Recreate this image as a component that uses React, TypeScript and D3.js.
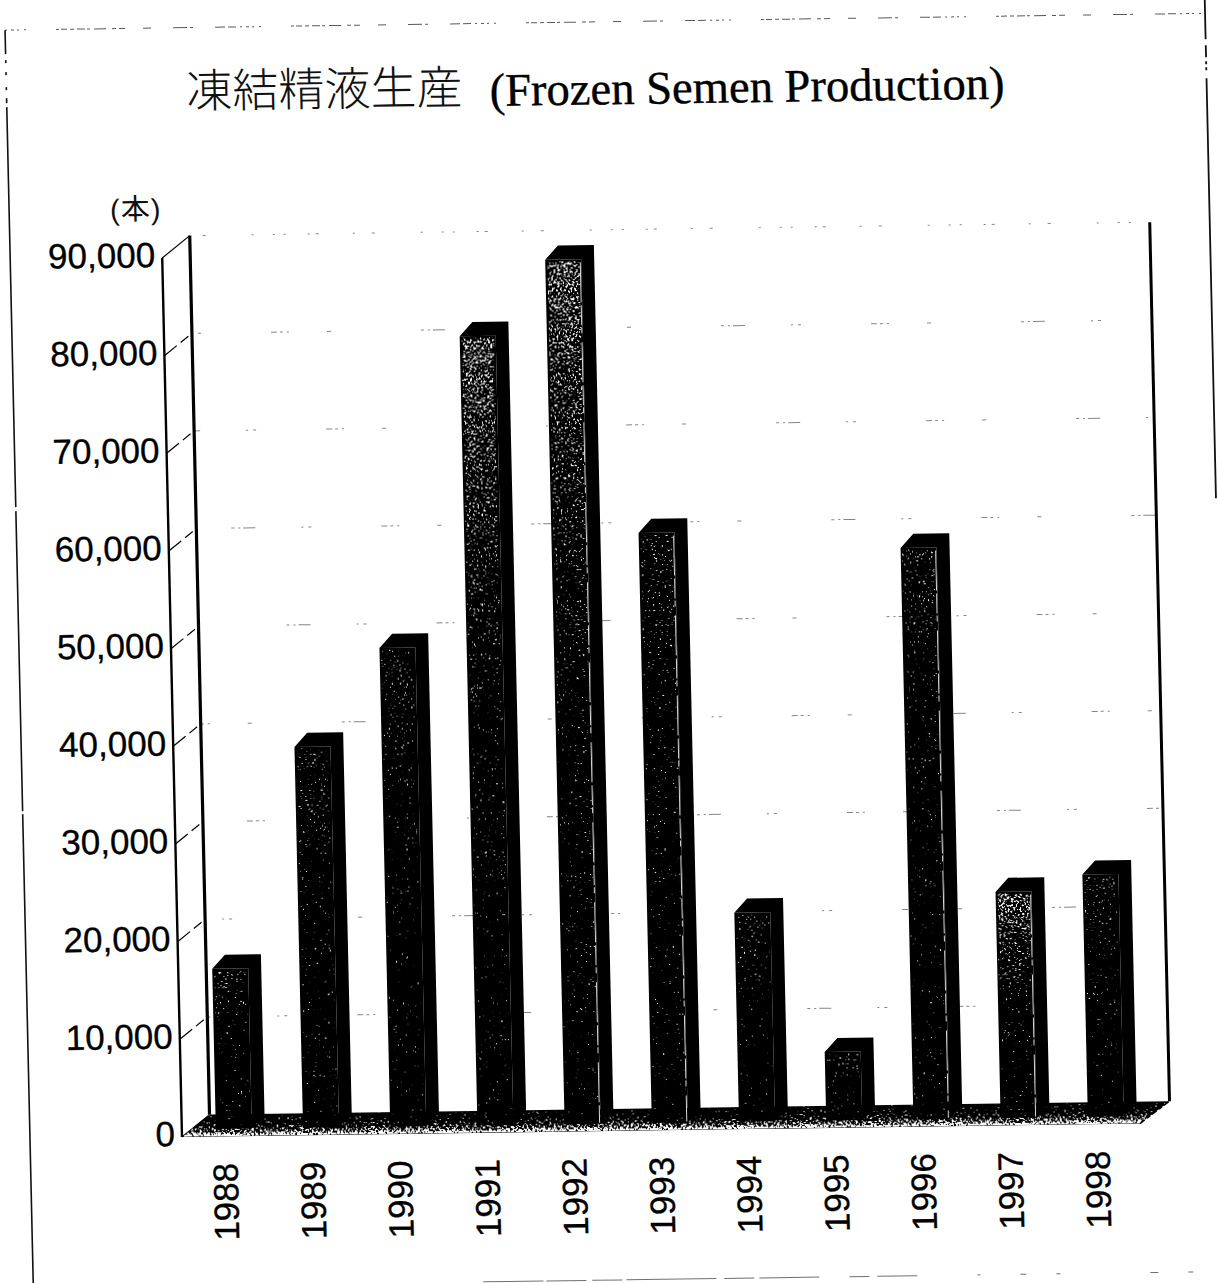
import React from "react";
import * as d3 from "d3";

const years = ["1988","1989","1990","1991","1992","1993","1994","1995","1996","1997","1998"];
const production = [16400,39000,49000,80800,88500,60400,21400,7000,58500,23150,24800];
const yTicks = [0,10000,20000,30000,40000,50000,60000,70000,80000,90000];
const strongGrain = ["1991","1992","1997"];
const litEdge = ["1992","1993","1996","1997"];

const titleJa = "凍結精液生産";
const titleEn = "(Frozen Semen Production)";
const unitLabel = "(本)";

const W = 1218, H = 1283;
// The printed page sits slightly sheared; everything is drawn square and then sheared as one.
const shearX = 0.0225, shearY = 0.014, pivotX = 182, pivotY = 1137;
const sheet = `matrix(1 ${-shearY} ${shearX} 1 ${-shearX * pivotY} ${shearY * pivotX})`;

const wallDx = 28, wallDy = -22;      // floor depth
const barDx = 13, barDy = -14;        // bar depth
const barInset = 7.5;                 // front of the bars, above the floor's front edge
const floorLeft = 182, floorRight = 1140;

const y = d3.scaleLinear().domain([0, 90000]).range([1137, 258]);
const x = d3.scaleBand().domain(years).range([216, 216 + 87.2 * 10 + 36]).paddingInner(1 - 36 / 87.2).paddingOuter(0);
const fmt = d3.format(",");
const poly = (pts: [number, number][]) => d3.line()(pts) + "Z";

const sans = "'Liberation Sans', 'Noto Sans CJK JP', Arial, sans-serif";

export default function App() {
  const wallTop = y(90000) + wallDy;
  const wallBottom = y(0) + wallDy;
  const wallL = floorLeft + wallDx;
  const wallR = floorRight + wallDx + 2;
  const floor = poly([[floorLeft, y(0)], [floorRight, y(0)], [wallR, wallBottom], [wallL, wallBottom]]);
  return (
    <svg width={W} height={H} viewBox={`0 0 ${W} ${H}`} style={{ position: "absolute", left: 0, top: 0, background: "#fff" }}>
      <defs>
        {/* speckle: the fill's alpha sets how many noise grains pass the threshold */}
        <filter id="speck" x="0" y="0" width="100%" height="100%" colorInterpolationFilters="sRGB">
          <feTurbulence type="fractalNoise" baseFrequency="0.48" numOctaves="2" seed="7" result="n" />
          <feColorMatrix in="n" type="matrix" values="0 0 0 0 0  0 0 0 0 0  0 0 0 0 0  1 0 0 0 0" result="na" />
          <feComposite in="na" in2="SourceAlpha" operator="arithmetic" k1="0" k2="1" k3="0.5" k4="0" result="sum" />
          <feComponentTransfer in="sum" result="hard">
            <feFuncA type="linear" slope="14" intercept="-10.6" />
          </feComponentTransfer>
          <feFlood floodColor="#fff" />
          <feComposite in2="hard" operator="in" />
        </filter>
        <linearGradient id="grainStrong" x1="0" y1="0" x2="0" y2="1">
          <stop offset="0" stopColor="#000" stopOpacity="0.46" />
          <stop offset="0.2" stopColor="#000" stopOpacity="0.3" />
          <stop offset="0.5" stopColor="#000" stopOpacity="0.1" />
          <stop offset="1" stopColor="#000" stopOpacity="0.05" />
        </linearGradient>
        <linearGradient id="grainWeak" x1="0" y1="0" x2="0" y2="1">
          <stop offset="0" stopColor="#000" stopOpacity="0.2" />
          <stop offset="0.3" stopColor="#000" stopOpacity="0.08" />
          <stop offset="1" stopColor="#000" stopOpacity="0.03" />
        </linearGradient>
        <linearGradient id="grainFloor" x1="0" y1="0" x2="0" y2="1">
          <stop offset="0" stopColor="#000" stopOpacity="0.06" />
          <stop offset="0.5" stopColor="#000" stopOpacity="0.24" />
          <stop offset="0.85" stopColor="#000" stopOpacity="0.55" />
          <stop offset="1" stopColor="#000" stopOpacity="0.95" />
        </linearGradient>
        <clipPath id="floorClip"><path d={floor} /></clipPath>
      </defs>

      <g transform={sheet}>
        {/* page frame, mostly lost along its edges */}
        <g fill="none" stroke="#111">
          <line x1={30} y1={28} x2={30} y2={1290} strokeWidth={1.6} strokeDasharray="24 6 3 9 3 12 3 8 5 4 400 4 300 3 500" />
          <line x1={30} y1={28} x2={1235} y2={28} strokeWidth={1} strokeDasharray="2 4 3 3 2 5 2 30 3 2 6 3 4 3 8 2 3 4 12 6 4 3 6 18 8 22 14 3 3 22 10 3 8 4" opacity={0.7} />
          <line x1={1230} y1={10} x2={1230} y2={520} strokeWidth={1.8} strokeDasharray="44 6 12 4 3 3 3 8 420" />
          <line x1={480} y1={1286} x2={1220} y2={1286} strokeWidth={1} strokeDasharray="60 3 40 6 30 4 90 8 30 5 60 30 20 8 40" opacity={0.6} />
        </g>

        {/* titles */}
        <text x={210} y={108} fontFamily="'Noto Sans CJK JP', sans-serif" fontWeight={300} fontSize={46} fill="#111">{titleJa}</text>
        <text x={513} y={110.5} fontFamily="'Liberation Serif', serif" fontSize={46.6} fill="#000" stroke="#000" strokeWidth={0.4}>{titleEn}</text>
        <text x={131} y={219} fontFamily={sans} fontSize={29} letterSpacing={1} fill="#111">{unitLabel}</text>

        {/* back wall gridlines, faint in print */}
        <g stroke="#666" strokeWidth={1} fill="none">
          {yTicks.filter((t) => t > 0).map((t, i) => (
            <line key={t} x1={wallL} x2={wallR} y1={y(t) + wallDy} y2={y(t) + wallDy}
              strokeDasharray={t === 90000 ? "2 9 2 22 2 6 3 34 2 17 3 46 2 19" : "3 4 2 3 12 46 2 5 3 70 6 3 3 4 2 38 4 90"}
              strokeDashoffset={i * 53} opacity={0.8} />
          ))}
        </g>

        {/* side wall */}
        <line x1={wallL} x2={wallL} y1={wallTop} y2={wallBottom} stroke="#000" strokeWidth={3.2} />
        <line x1={wallR} x2={wallR} y1={wallTop} y2={wallBottom} stroke="#000" strokeWidth={3} />
        <line x1={floorLeft} x2={floorLeft} y1={y(90000)} y2={y(0)} stroke="#000" strokeWidth={2.4} />
        <g stroke="#000" strokeWidth={1.2}>
          {yTicks.map((t) => (
            <line key={t} x1={floorLeft} x2={wallL} y1={y(t)} y2={y(t) + wallDy} strokeDasharray={t === 90000 || t === 0 ? undefined : "16 5 10 30"} />
          ))}
        </g>

        {/* floor */}
        <path d={floor} fill="#000" />
        <path d={floor} fill="url(#grainFloor)" filter="url(#speck)" clipPath="url(#floorClip)" />
        <line x1={floorRight} y1={y(0)} x2={wallR} y2={wallBottom} stroke="#000" strokeWidth={1.4} strokeDasharray="6 3 4 2" />

        {/* bars */}
        {years.map((yr, i) => {
          const x0 = x(yr)!;
          const w = x.bandwidth();
          const top = y(production[i]) - barInset;
          const base = y(0) - barInset;
          const strong = strongGrain.includes(yr);
          return (
            <g key={yr}>
              <path fill="#000" d={poly([[x0, top], [x0 + barDx, top + barDy], [x0 + w + barDx, top + barDy], [x0 + w + barDx, base + barDy], [x0 + w, base], [x0 + w, top]])} />
              <rect x={x0} y={top} width={w} height={base - top} fill="#000" />
              <rect x={x0 + 2} y={top + 2} width={w - 4} height={base - top - 3} fill={strong ? "url(#grainStrong)" : "url(#grainWeak)"} filter="url(#speck)" />
              {litEdge.includes(yr) && (
                <line x1={x0 + w - 1} x2={x0 + w - 1} y1={top + 3} y2={base - 1} stroke="#fff" strokeWidth={1} strokeDasharray="40 3 20 2 6 9" opacity={0.85} />
              )}
            </g>
          );
        })}

        {/* axis labels */}
        <g fontFamily={sans} fontSize={35} fill="#000" stroke="#000" strokeWidth={0.35} textAnchor="end">
          {yTicks.map((t) => (
            <text key={t} x={175} y={y(t) + 9}>{fmt(t)}</text>
          ))}
        </g>
        <g fontFamily={sans} fontSize={35} fill="#000" stroke="#000" strokeWidth={0.35} textAnchor="end">
          {years.map((yr) => (
            <text key={yr} transform={`translate(${x(yr)! + x.bandwidth() / 2 - 10 + 13},1163.5) rotate(-90)`}>{yr}</text>
          ))}
        </g>
      </g>
    </svg>
  );
}
